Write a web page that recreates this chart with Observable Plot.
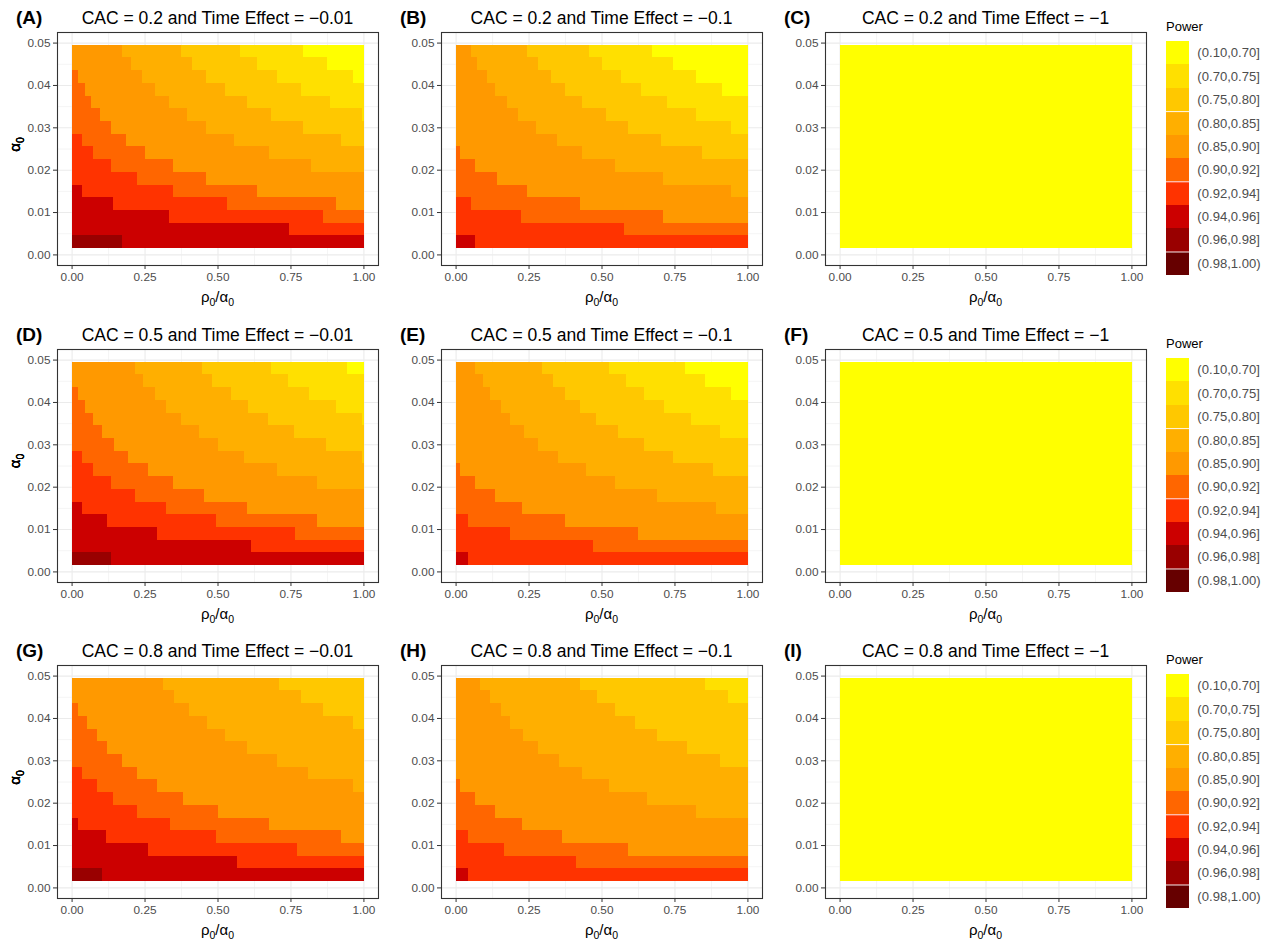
<!DOCTYPE html>
<html><head><meta charset="utf-8">
<script src="https://cdn.jsdelivr.net/npm/d3@7"></script>
<script src="https://cdn.jsdelivr.net/npm/@observablehq/plot@0.6"></script>
<style>
body{margin:0;background:#fff;}
#root{position:relative;width:1283px;height:946px;overflow:hidden;background:#fff;font-family:"Liberation Sans",Arial,sans-serif;}
.slot{position:absolute;}
g[aria-label="x-axis tick"],g[aria-label="y-axis tick"]{stroke:#333333;}
g[aria-label="x-axis tick label"],g[aria-label="y-axis tick label"]{fill:#4d4d4d;}
#overlay{position:absolute;left:0;top:0;pointer-events:none;}
</style></head><body><div id="root"></div>
<script>
// ---------- data ----------
const powerLevels = ["(0.10,0.70]","(0.70,0.75]","(0.75,0.80]","(0.80,0.85]","(0.85,0.90]","(0.90,0.92]","(0.92,0.94]","(0.94,0.96]","(0.96,0.98]","(0.98,1.00)"];
const levelColors = ["#FFFF00","#FFE000","#FFC800","#FFAF00","#FF9900","#FF6600","#FF3300","#CC0000","#990000","#660000"];
const alpha0 = [0.003,0.006,0.009,0.012,0.015,0.018,0.021,0.024,0.027,0.030,0.033,0.036,0.039,0.042,0.045,0.048];
const alphaStep = 0.003;
const ratioRange = [0.003, 1.003];
const cacValues = ["0.2","0.5","0.8"];
const timeEffects = ["\u22120.01","\u22120.1","\u22121"];
const panelLetters = ["A","B","C","D","E","F","G","H","I"];
const xTicks = [0,0.25,0.5,0.75,1];
const xMinor = [0.125,0.375,0.625,0.875];
const yTicks = [0,0.01,0.02,0.03,0.04,0.05];
const yMinor = [0.005,0.015,0.025,0.035,0.045];

// each row (alpha0 ascending): [power level index, right end of that run in rho0/alpha0]
const panelA = [
 [[8,.174],[7,1]],
 [[7,.744],[6,1]],
 [[7,.334],[6,.863],[5,1]],
 [[7,.143],[6,.534],[5,.905],[4,1]],
 [[7,.034],[6,.346],[5,.634],[4,1]],
 [[6,.225],[5,.462],[4,1]],
 [[6,.134],[5,.346],[4,.822],[3,1]],
 [[6,.075],[5,.251],[4,.677],[3,1]],
 [[6,.034],[5,.185],[4,.557],[3,.922],[2,1]],
 [[5,.134],[4,.462],[3,.794],[2,1]],
 [[5,.097],[4,.394],[3,.682],[2,.994],[1,1]],
 [[5,.065],[4,.334],[3,.602],[2,.886],[1,1]],
 [[5,.045],[4,.285],[3,.525],[2,.785],[1,1]],
 [[5,.023],[4,.242],[3,.462],[2,.703],[1,.965],[0,1]],
 [[4,.205],[3,.414],[2,.634],[1,.874],[0,1]],
 [[4,.174],[3,.374],[2,.576],[1,.794],[0,1]]
];
const panelB = [
 [[7,.065],[6,1]],
 [[6,.577],[5,1]],
 [[6,.225],[5,.712],[4,1]],
 [[6,.054],[5,.425],[4,1]],
 [[5,.243],[4,.943],[3,1]],
 [[5,.143],[4,.712],[3,1]],
 [[5,.065],[4,.545],[3,1]],
 [[5,.014],[4,.434],[3,.843],[2,1]],
 [[4,.346],[3,.703],[2,1]],
 [[4,.274],[3,.592],[2,.943],[1,1]],
 [[4,.215],[3,.514],[2,.823],[1,1]],
 [[4,.175],[3,.434],[2,.723],[1,1]],
 [[4,.134],[3,.374],[2,.634],[1,.914],[0,1]],
 [[4,.106],[3,.326],[2,.566],[1,.823],[0,1]],
 [[4,.074],[3,.283],[2,.503],[1,.746],[0,1]],
 [[4,.054],[3,.243],[2,.457],[1,.674],[0,1]]
];
const panelC = alpha0.map(() => [[0,1]]);
const panelD = [
 [[8,.134],[7,1]],
 [[7,.614],[6,1]],
 [[7,.294],[6,.765],[5,1]],
 [[7,.122],[6,.494],[5,.842],[4,1]],
 [[7,.034],[6,.325],[5,.602],[4,1]],
 [[6,.216],[5,.455],[4,1]],
 [[6,.134],[5,.346],[4,.842],[3,1]],
 [[6,.074],[5,.263],[4,.703],[3,1]],
 [[6,.034],[5,.195],[4,.591],[3,.994],[2,1]],
 [[5,.145],[4,.503],[3,.873],[2,1]],
 [[5,.105],[4,.435],[3,.762],[2,1]],
 [[5,.074],[4,.374],[3,.674],[2,.994],[1,1]],
 [[5,.045],[4,.325],[3,.605],[2,.905],[1,1]],
 [[5,.023],[4,.285],[3,.545],[2,.814],[1,1]],
 [[4,.245],[3,.482],[2,.743],[1,1]],
 [[4,.216],[3,.446],[2,.685],[1,.943],[0,1]]
];
const panelE = [
 [[7,.043],[6,1]],
 [[6,.472],[5,1]],
 [[6,.185],[5,.624],[4,1]],
 [[6,.043],[5,.374],[4,1]],
 [[5,.226],[4,.894],[3,1]],
 [[5,.134],[4,.691],[3,1]],
 [[5,.065],[4,.545],[3,1]],
 [[5,.014],[4,.446],[3,.883],[2,1]],
 [[4,.352],[3,.744],[2,1]],
 [[4,.283],[3,.645],[2,1]],
 [[4,.234],[3,.555],[2,.906],[1,1]],
 [[4,.185],[3,.482],[2,.806],[1,1]],
 [[4,.154],[3,.425],[2,.714],[1,1]],
 [[4,.117],[3,.374],[2,.646],[1,.943],[0,1]],
 [[4,.095],[3,.334],[2,.583],[1,.854],[0,1]],
 [[4,.065],[3,.295],[2,.525],[1,.785],[0,1]]
];
const panelF = alpha0.map(() => [[0,1]]);
const panelG = [
 [[8,.105],[7,1]],
 [[7,.566],[6,1]],
 [[7,.263],[6,.774],[5,1]],
 [[7,.117],[6,.494],[5,.922],[4,1]],
 [[7,.023],[6,.336],[5,.677],[4,1]],
 [[6,.225],[5,.503],[4,1]],
 [[6,.143],[5,.383],[4,1]],
 [[6,.086],[5,.294],[4,.965],[3,1]],
 [[6,.034],[5,.225],[4,.81],[3,1]],
 [[5,.174],[4,.703],[3,1]],
 [[5,.122],[4,.602],[3,1]],
 [[5,.086],[4,.525],[3,1]],
 [[5,.054],[4,.463],[3,.965],[2,1]],
 [[5,.023],[4,.403],[3,.863],[2,1]],
 [[4,.351],[3,.785],[2,1]],
 [[4,.314],[3,.711],[2,1]]
];
const panelH = [
 [[7,.043],[6,1]],
 [[6,.414],[5,1]],
 [[6,.165],[5,.592],[4,1]],
 [[6,.043],[5,.363],[4,1]],
 [[5,.226],[4,1]],
 [[5,.134],[4,.823],[3,1]],
 [[5,.065],[4,.655],[3,1]],
 [[5,.014],[4,.525],[3,1]],
 [[4,.434],[3,1]],
 [[4,.354],[3,.905],[2,1]],
 [[4,.283],[3,.794],[2,1]],
 [[4,.232],[3,.691],[2,1]],
 [[4,.185],[3,.614],[2,1]],
 [[4,.154],[3,.546],[2,1]],
 [[4,.117],[3,.483],[2,.934],[1,1]],
 [[4,.083],[3,.425],[2,.854],[1,1]]
];
const panelI = alpha0.map(() => [[0,1]]);
const panels = [panelA,panelB,panelC,panelD,panelE,panelF,panelG,panelH,panelI];

// ---------- layout ----------
const colLefts = [57, 441, 825];
const rowTops = [32, 348.5, 665];
const FW = 321, FH = 233;
const ML = 52, MR = 3, MT = 3, MB = 26;
const FONT = "'Liberation Sans', Arial, Helvetica, sans-serif";
const root = document.getElementById("root");

function toCells(rows) {
  const cells = [];
  rows.forEach((segs, i) => {
    let x0 = ratioRange[0];
    segs.forEach(([k, xe]) => {
      const x1 = xe >= 1 ? ratioRange[1] : xe;
      cells.push({a: alpha0[i], x1: x0, x2: x1, level: powerLevels[k]});
      x0 = x1;
    });
  });
  return cells;
}

function panelPlot(rows) {
  return Plot.plot({
    width: ML + FW + MR, height: MT + FH + MB,
    marginLeft: ML, marginRight: MR, marginTop: MT, marginBottom: MB,
    x: {domain: [-0.05, 1.05]},
    y: {domain: [-0.0025, 0.0525]},
    color: {domain: powerLevels, range: levelColors},
    style: {fontFamily: FONT, background: "transparent", overflow: "visible"},
    marks: [
      Plot.gridX(xMinor, {stroke: "#ebebeb", strokeWidth: 0.55, strokeOpacity: 1}),
      Plot.gridY(yMinor, {stroke: "#ebebeb", strokeWidth: 0.55, strokeOpacity: 1}),
      Plot.gridX(xTicks, {stroke: "#ebebeb", strokeWidth: 1.1, strokeOpacity: 1}),
      Plot.gridY(yTicks, {stroke: "#ebebeb", strokeWidth: 1.1, strokeOpacity: 1}),
      Plot.rect(toCells(rows), {x1: "x1", x2: "x2", y1: d => d.a - alphaStep / 2, y2: d => d.a + alphaStep / 2, fill: "level", shapeRendering: "crispEdges"}),
      Plot.frame({stroke: "#333333", strokeWidth: 1.1}),
      Plot.axisX({ticks: xTicks, tickFormat: d3.format(".2f"), tickSize: 4, tickPadding: 3, fontSize: 11.8, label: null, stroke: "#333333", fill: "#4d4d4d"}),
      Plot.axisY({ticks: yTicks, tickFormat: d3.format(".2f"), tickSize: 4, tickPadding: 3, fontSize: 11.8, label: null, stroke: "#333333", fill: "#4d4d4d"})
    ]
  });
}

function legendPlot() {
  return Plot.plot({
    width: 25 + 100, height: 252,
    marginLeft: 0, marginRight: 100, marginTop: 1, marginBottom: 1,
    y: {type: "band", domain: powerLevels, padding: 0},
    color: {domain: powerLevels, range: levelColors},
    style: {fontFamily: FONT, background: "transparent", overflow: "visible"},
    marks: [
      Plot.cell(powerLevels, {y: d => d, fill: d => d, inset: 0, shapeRendering: "crispEdges"}),
      Plot.tickY([powerLevels[2], powerLevels[5], powerLevels[8]], {y: d => d, dy: 12.5, stroke: "white", strokeWidth: 1}),
      Plot.axisY({anchor: "right", tickSize: 0, tickPadding: 8, fontSize: 14, label: null, fill: "#1a1a1a"})
    ]
  });
}

for (let r = 0; r < 3; r++) {
  for (let c = 0; c < 3; c++) {
    const slot = document.createElement("div");
    slot.className = "slot";
    slot.style.left = (colLefts[c] - ML) + "px";
    slot.style.top = (rowTops[r] - MT) + "px";
    slot.appendChild(panelPlot(panels[r * 3 + c]));
    root.appendChild(slot);
  }
  const lg = document.createElement("div");
  lg.className = "slot";
  lg.style.left = "1166px";
  lg.style.top = (rowTops[r] + 9 - 1) + "px";
  lg.appendChild(legendPlot());
  root.appendChild(lg);
}

// ---------- text overlay ----------
const svg = d3.select(root).append("svg").attr("id", "overlay")
  .attr("width", 1283).attr("height", 946)
  .style("font-family", FONT);

for (let r = 0; r < 3; r++) {
  for (let c = 0; c < 3; c++) {
    const L = colLefts[c], T = rowTops[r], cx = L + FW / 2;
    svg.append("text").attr("x", L - 41).attr("y", T - 8)
      .attr("font-size", 19).attr("font-weight", "bold").attr("fill", "#000")
      .text("(" + panelLetters[r * 3 + c] + ")");
    svg.append("text").attr("x", cx).attr("y", T - 8)
      .attr("font-size", 17.5).attr("text-anchor", "middle").attr("fill", "#000")
      .text("CAC = " + cacValues[r] + " and Time Effect = " + timeEffects[c]);
    const xl = svg.append("text").attr("x", cx).attr("y", T + FH + 37)
      .attr("font-size", 15).attr("text-anchor", "middle").attr("fill", "#000");
    xl.append("tspan").text("\u03C1");
    xl.append("tspan").attr("dy", 4).attr("font-size", 10.5).text("0");
    xl.append("tspan").attr("dy", -4).text("/\u03B1");
    xl.append("tspan").attr("dy", 4).attr("font-size", 10.5).text("0");
    const yc = T + FH / 2 - 4;
    const yl = svg.append("text").attr("transform", `translate(20,${yc}) rotate(-90)`)
      .attr("font-size", 15).attr("text-anchor", "middle").attr("fill", "#000");
    yl.append("tspan").text("\u03B1");
    yl.append("tspan").attr("dy", 4).attr("font-size", 10.5).text("0");
  }
  svg.append("text").attr("x", 1166).attr("y", rowTops[r] - 1)
    .attr("font-size", 13).attr("fill", "#000").text("Power");
}
</script></body></html>
